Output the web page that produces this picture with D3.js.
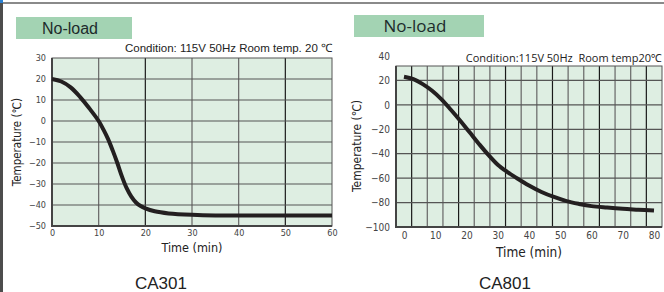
<!DOCTYPE html>
<html>
<head>
<meta charset="utf-8">
<script src="https://cdn.jsdelivr.net/npm/d3@7"></script>
<style>
  body { margin: 0; background: #fff; }
  svg { display: block; }
  .narrow { font-family: 'DejaVu Sans Condensed', 'DejaVu Sans', sans-serif; font-stretch: condensed; }
</style>
</head>
<body>
<svg id="chart" width="664" height="292"></svg>
<script>
// CA301 curve (min, degC)
var ca301Time = [0, 2, 4, 6, 8, 10, 11, 12, 13, 14, 15, 16, 17, 18, 19, 20, 22, 25, 30, 35, 40, 50, 60];
var ca301Temp = [20, 18.8, 16, 11.5, 6, 0, -4, -8.5, -14, -20, -26.5, -32, -36, -38.8, -40.5, -41.6, -43, -44, -44.7, -45, -45, -45, -45];
var ca301XTicks = [0, 10, 20, 30, 40, 50, 60];
var ca301YTicks = [30, 20, 10, 0, -10, -20, -30, -40, -50];

// CA801 curve (min, degC)
var ca801Time = [0, 3, 6, 9, 12, 15, 18, 21, 24, 27, 30, 33, 36, 40, 44, 48, 52, 56, 60, 65, 70, 75, 80];
var ca801Temp = [23, 21, 17, 11.5, 4.5, -4, -13, -22.5, -32, -41, -49, -54.8, -59.8, -66, -71.3, -75.4, -78.8, -81.1, -82.9, -84.1, -85.1, -85.8, -86.5];
var ca801XTicks = [0, 10, 20, 30, 40, 50, 60, 70, 80];
var ca801YTicks = [40, 20, 0, -20, -40, -60, -80, -100];

var svg = d3.select("#chart");

function fmt(d) { return d < 0 ? "\u2212" + Math.abs(d) : String(d); }

// page frame
svg.append("rect").attr("x", 0).attr("y", 2).attr("width", 664).attr("height", 2).attr("fill", "#8a8a8a");
svg.append("rect").attr("x", 0).attr("y", 0).attr("width", 3).attr("height", 292).attr("fill", "#4d4d4d");
svg.append("rect").attr("x", 0).attr("y", 0).attr("width", 3).attr("height", 3).attr("fill", "#2a7fd0");

function panel(o) {
  var g = svg.append("g");
  var x = d3.scaleLinear().domain(o.xDomain).range(o.xRange);
  var y = d3.scaleLinear().domain(o.yDomain).range(o.yRange);

  // "No-load" badge
  g.append("rect").attr("x", o.badge[0]).attr("y", o.badge[1])
    .attr("width", o.badge[2]).attr("height", o.badge[3]).attr("fill", "#a3d3b3");
  g.append("text").attr("x", o.badgeX).attr("y", o.badge[1] + o.badge[3] / 2)
    .attr("dy", "0.36em").attr("text-anchor", "middle")
    .style("font-family", o.badgeFont).style("font-size", o.badgeSize + "px")
    .attr("fill", "#1d2b2b").text("No-load");

  // condition note
  g.append("text").attr("x", o.box[2]).attr("y", o.condY).attr("text-anchor", "end")
    .style("font-family", o.condFont).style("font-size", o.condSize + "px")
    .style("white-space", "pre")
    .attr("fill", "#222").text(o.condition);

  // plot background
  g.append("rect").attr("x", o.box[0]).attr("y", o.box[1])
    .attr("width", o.box[2] - o.box[0]).attr("height", o.box[3] - o.box[1])
    .attr("fill", "#deeee2");

  // grid
  o.vLines.forEach(function (vx, i) {
    g.append("line").attr("x1", vx).attr("x2", vx).attr("y1", o.box[1]).attr("y2", o.box[3])
      .attr("stroke", o.darkV(i) ? "#1a1a1a" : "#666").attr("stroke-width", 1.2);
  });
  o.hLines.forEach(function (v) {
    g.append("line").attr("x1", o.box[0]).attr("x2", o.box[2]).attr("y1", y(v)).attr("y2", y(v))
      .attr("stroke", "#555").attr("stroke-width", 1.2);
  });

  // frame
  g.append("rect").attr("x", o.box[0]).attr("y", o.box[1])
    .attr("width", o.box[2] - o.box[0]).attr("height", o.box[3] - o.box[1])
    .attr("fill", "none").attr("stroke", "#555").attr("stroke-width", 1);
  g.append("path").attr("d", "M" + o.box[0] + "," + o.box[1] + "V" + o.box[3] + "H" + o.box[2])
    .attr("fill", "none").attr("stroke", "#444").attr("stroke-width", 2);

  // curve
  var line = d3.line().x(function (d) { return x(d[0]); }).y(function (d) { return y(d[1]); })
    .curve(d3.curveCatmullRom.alpha(0.5));
  g.append("path").datum(d3.zip(o.time, o.temp)).attr("d", line)
    .attr("fill", "none").attr("stroke", "#231f20").attr("stroke-width", 4);

  // axes
  var ya = g.append("g").attr("transform", "translate(" + o.box[0] + ",0)")
    .call(d3.axisLeft(y).tickValues(o.yTicks).tickFormat(fmt).tickSize(0).tickPadding(6));
  var xa = g.append("g").attr("transform", "translate(0," + o.box[3] + ")")
    .call(d3.axisBottom(x).tickValues(o.xTicks).tickFormat(fmt).tickSize(0).tickPadding(o.xPad));
  [ya, xa].forEach(function (a) {
    a.attr("font-family", null).attr("font-size", null);
    a.select(".domain").remove();
    a.selectAll("text").attr("class", "narrow").style("font-size", o.tickSize + "px").attr("fill", "#444");
  });

  // axis titles
  g.append("text").attr("class", "narrow").attr("x", o.xTitle[0]).attr("y", o.xTitle[1])
    .attr("text-anchor", "middle")
    .style("font-size", o.titleSize + "px").attr("fill", "#222")
    .text(o.xTitleText);
  g.append("text").attr("class", "narrow")
    .attr("transform", "translate(" + o.yTitle[0] + "," + o.yTitle[1] + ") rotate(-90)")
    .attr("text-anchor", "middle")
    .style("font-size", o.yTitleSize + "px").attr("fill", "#222")
    .text("Temperature (\u2103)");

  // model name
  g.append("text").attr("x", o.model[0]).attr("y", o.model[1]).attr("text-anchor", "middle")
    .style("font-family", "'Liberation Sans', Arial, sans-serif").style("font-size", "17px")
    .attr("fill", "#222").text(o.modelName);
}

panel({
  time: ca301Time, temp: ca301Temp, xTicks: ca301XTicks, yTicks: ca301YTicks,
  xDomain: [0, 60], xRange: [52, 332], yDomain: [-50, 30], yRange: [226, 58],
  box: [52, 58, 332, 226],
  vLines: [10, 20, 30, 40, 50].map(function (t) { return 52 + t * 280 / 60; }),
  darkV: function (i) { return i === 1 || i === 4; },
  hLines: [20, 10, 0, -10, -20, -30, -40],
  badge: [16, 17, 116, 22], badgeX: 70, badgeFont: "'Liberation Sans', Arial, sans-serif", badgeSize: 16,
  condition: "Condition: 115V 50Hz Room temp. 20 \u2103", condY: 52,
  condFont: "'Liberation Sans', Arial, sans-serif", condSize: 11.5,
  tickSize: 9, xPad: 4, titleSize: 12.5, yTitleSize: 11.5,
  xTitle: [192, 252], xTitleText: "Time (min)", yTitle: [21, 142],
  model: [161, 289], modelName: "CA301"
});

panel({
  time: ca801Time, temp: ca801Temp, xTicks: ca801XTicks, yTicks: ca801YTicks,
  xDomain: [0, 80], xRange: [404, 654], yDomain: [-100, 40], yRange: [227, 56],
  box: [396, 66, 662, 227],
  vLines: d3.range(1, 17).map(function (i) { return 396 + i * 266 / 17; }),
  darkV: function (i) { return i % 3 === 0; },
  hLines: [20, 0, -20, -40, -60, -80],
  badge: [354, 15, 130, 22], badgeX: 415, badgeFont: "'Open Sans', 'Noto Sans', sans-serif", badgeSize: 17,
  condition: "Condition:115V 50Hz  Room temp20\u2103", condY: 62,
  condFont: "'Open Sans', 'Noto Sans', sans-serif", condSize: 11,
  tickSize: 10, xPad: 5, titleSize: 13.5, yTitleSize: 12,
  xTitle: [529, 257], xTitleText: "Time (min)", yTitle: [361, 146],
  model: [505, 289], modelName: "CA801"
});
</script>
</body>
</html>
